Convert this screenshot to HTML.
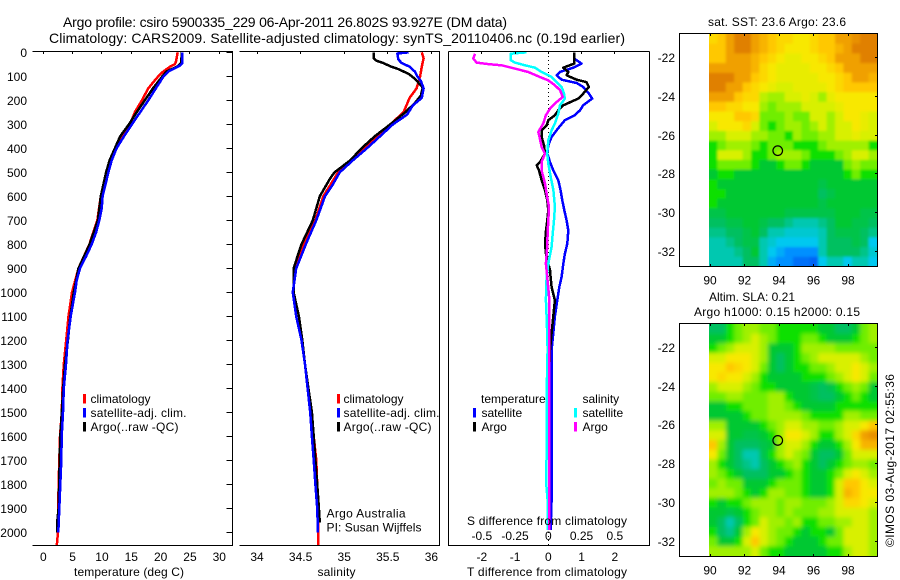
<!DOCTYPE html>
<html lang="en">
<head>
<meta charset="utf-8">
<title>Argo profile chart</title>
<style>
html,body{margin:0;padding:0;background:#fff;width:900px;height:580px;overflow:hidden}
svg{display:block}
text{font-family:"Liberation Sans",Arial,sans-serif;font-size:12px;fill:#000}
.t14{font-size:14px}
.mark{fill:none;stroke-width:2.5;stroke-linejoin:round;shape-rendering:crispEdges}
.ax{stroke:#000;stroke-width:1;shape-rendering:crispEdges;fill:none}
</style>
</head>
<body>
<svg id="chart" width="900" height="580" viewBox="0 0 900 580" xmlns="http://www.w3.org/2000/svg">
<defs>
<clipPath id="sstClip"><rect x="709" y="34" width="168" height="232.5"/></clipPath>
<clipPath id="slaClip"><rect x="709" y="324" width="168" height="232"/></clipPath>
<filter id="soft" x="-5%" y="-5%" width="110%" height="110%"><feGaussianBlur stdDeviation="1.2"/></filter>
<filter id="softer" x="-5%" y="-5%" width="110%" height="110%"><feGaussianBlur stdDeviation="2"/></filter>
</defs>

<text class="t14" x="63" y="27" textLength="444">Argo profile: csiro 5900335_229 06-Apr-2011 26.802S 93.927E (DM data)</text>
<text class="t14" x="49" y="43" textLength="576">Climatology: CARS2009. Satellite-adjusted climatology: synTS_20110406.nc (0.19d earlier)</text>

<!-- temperature panel -->
<g>
<polyline id="tempRed" class="mark" stroke="#ff0000"/>
<polyline id="tempBlack" class="mark" stroke="#000000"/>
<polyline id="tempBlue" class="mark" stroke="#0000ff"/>
<path class="ax" d="M32.5 51.5H232.5V545.5H32.5"/>
<g id="tempTicks"></g>
<text x="74" y="576" textLength="110">temperature (deg C)</text>
<rect x="83" y="394" width="3" height="9.5" fill="#ff0000"/>
<text x="90.5" y="403">climatology</text>
<rect x="83" y="408" width="3" height="9.5" fill="#0000ff"/>
<text x="90.5" y="417" textLength="96">satellite-adj. clim.</text>
<rect x="83" y="422" width="3" height="9.5" fill="#000"/>
<text x="90.5" y="431" textLength="88">Argo(..raw -QC)</text>
</g>

<!-- salinity panel -->
<g>
<polyline id="salRed" class="mark" stroke="#ff0000"/>
<polyline id="salBlack" class="mark" stroke="#000000"/>
<polyline id="salBlue" class="mark" stroke="#0000ff"/>
<path class="ax" d="M239.5 51.5H439.5V545.5H239.5"/>
<g id="salTicks"></g>
<text x="317.5" y="576" textLength="38">salinity</text>
<rect x="337" y="394" width="3" height="9.5" fill="#ff0000"/>
<text x="343.5" y="403">climatology</text>
<rect x="337" y="408" width="3" height="9.5" fill="#0000ff"/>
<text x="343.5" y="417" textLength="96">satellite-adj. clim.</text>
<rect x="337" y="422" width="3" height="9.5" fill="#000"/>
<text x="343.5" y="431" textLength="88">Argo(..raw -QC)</text>
<text x="326.5" y="517.5" textLength="79">Argo Australia</text>
<text x="326.5" y="531.5" textLength="95">PI: Susan Wijffels</text>
</g>

<!-- difference panel -->
<g>
<line x1="548.5" y1="52" x2="548.5" y2="545" stroke="#000" stroke-width="1" stroke-dasharray="1 3" shape-rendering="crispEdges"/>
<polyline id="diffTBlue" class="mark" stroke="#0000ff"/>
<polyline id="diffTBlack" class="mark" stroke="#000000"/>
<polyline id="diffSCyan" class="mark" stroke="#00ffff"/>
<polyline id="diffSMagenta" class="mark" stroke="#ff00ff"/>
<path class="ax" d="M448.5 51.5H649.5M448.5 51.5V545.5H649.5V51.5"/>
<g id="diffTicks"></g>
<text x="481" y="403">temperature</text>
<rect x="473" y="408" width="3" height="9.5" fill="#0000ff"/>
<text x="481.5" y="417">satellite</text>
<rect x="473" y="422" width="3" height="9.5" fill="#000"/>
<text x="481.5" y="431">Argo</text>
<text x="582.5" y="403">salinity</text>
<rect x="574" y="408" width="3" height="9.5" fill="#00ffff"/>
<text x="582.5" y="417">satellite</text>
<rect x="574" y="422" width="3" height="9.5" fill="#ff00ff"/>
<text x="582.5" y="431">Argo</text>
<text x="467" y="525" textLength="160">S difference from climatology</text>
<text x="467" y="576" textLength="160">T difference from climatology</text>
</g>

<!-- SST map -->
<g>
<text x="708" y="26" textLength="138">sat. SST: 23.6 Argo: 23.6</text>
<g clip-path="url(#sstClip)"><g id="sstCells" filter="url(#soft)"></g></g>
<path class="ax" d="M679.5 33.5H877.5V266.5H679.5Z"/>
<circle id="sstMarker" fill="none" stroke="#000" stroke-width="1.2" r="4.8"/>
<g id="sstTicks"></g>
</g>

<!-- SLA map -->
<g>
<text x="709" y="301" textLength="86">Altim. SLA: 0.21</text>
<text x="694" y="316" textLength="166">Argo h1000: 0.15 h2000: 0.15</text>
<g clip-path="url(#slaClip)"><g id="slaCells" filter="url(#softer)"></g></g>
<path class="ax" d="M679.5 323.5H877.5V556.5H679.5Z"/>
<circle id="slaMarker" fill="none" stroke="#000" stroke-width="1.2" r="4.8"/>
<g id="slaTicks"></g>
</g>

<text transform="translate(894 547) rotate(-90)" textLength="173">©IMOS 03-Aug-2017 02:55:36</text>
</svg>

<script>
var depthTempRed=[0,40,50,60,80,100,120,150,200,250,300,350,400,450,500,600,700,800,900,1000,1100,1200,1300,1400,1500,1600,1800,2000,2055];
var tempRed=[22.9,22.6,22.4,21.6,20.45,19.6,18.9,17.9,16.8,15.6,14.8,13.6,12.5,11.5,10.9,9.8,9.2,7.85,6,4.9,4.3,3.9,3.5,3.25,3.15,2.85,2.6,2.5,2.3];
var depthTempBlack=[0,45,60,80,100,150,200,250,300,350,400,450,500,600,700,800,900,1000,1100,1200,1300,1400,1500,1600,1700,1800,1900,1950,2000];
var tempBlack=[23.6,23.5,22.8,21,20.3,18.7,17.3,15.9,14.6,13.1,12.2,11.3,10.7,9.8,9.3,7.9,6,5.2,4.6,4.2,3.7,3.4,3.15,2.9,2.8,2.7,2.6,2.4,2.4];
var depthTempBlue=[0,45,55,80,100,150,200,250,300,350,400,450,500,550,600,650,700,750,800,850,900,950,1000,1100,1200,1300,1400,1500,1600,1700,1800,1900,2000];
var tempBlue=[23.7,23.7,23.3,21.3,20.5,19.2,17.9,16.5,15.1,13.75,12.5,11.65,11.1,10.6,10.1,9.95,9.55,9,8.25,7.3,6.25,5.7,5.4,4.67,4.15,3.87,3.5,3.35,3.13,3.07,2.9,2.73,2.55];

var depthSalRed=[0,25,60,100,150,190,250,300,350,400,450,500,600,700,800,900,1000,1100,1200,1300,1400,1500,1600,1700,1800,1900,2000,2055];
var salRed=[35.89,35.91,35.89,35.87,35.83,35.75,35.68,35.53,35.37,35.24,35.08,34.93,34.76,34.67,34.54,34.45,34.41,34.45,34.51,34.55,34.58,34.61,34.65,34.68,34.69,34.7,34.7,34.7];
var depthSalBlack=[0,25,35,45,60,70,90,110,130,147,180,212,250,300,350,400,450,500,525,600,700,800,900,1000,1100,1200,1300,1400,1500,1600,1700,1800,1900,1960];
var salBlack=[35.34,35.34,35.37,35.45,35.54,35.62,35.74,35.81,35.86,35.9,35.88,35.81,35.7,35.53,35.35,35.2,35.07,34.89,34.84,34.72,34.64,34.51,34.42,34.42,34.48,34.52,34.55,34.59,34.63,34.65,34.67,34.69,34.71,34.72];
var depthSalBlue=[0,5,30,45,60,80,100,120,150,190,220,260,300,350,400,450,500,550,600,700,800,900,1000,1100,1200,1300,1400,1500,1600,1700,1800,1900,2000];
var salBlue=[35.74,35.61,35.62,35.66,35.75,35.81,35.84,35.88,35.91,35.89,35.79,35.72,35.56,35.41,35.26,35.1,34.95,34.87,34.78,34.68,34.56,34.45,34.41,34.45,34.51,34.55,34.58,34.61,34.63,34.65,34.67,34.69,34.7];

var depthDiffTBlue=[0,26,47,64,82,96,114,128,144,172,193,221,242,262,283,304,325,353,387,422,457,492,533,575,617,658,700,742,797,839,881,936,978,1033,1100,1170,1240,1310,1449,1546,1657,1865,1990];
var diffTBlue=[0.78,0.78,1,0.75,0.35,0.25,0.4,0.85,1.05,1.22,1.32,1.05,0.95,0.8,0.5,0.37,0.25,0.1,0,-0.03,0.05,0.15,0.3,0.37,0.42,0.48,0.55,0.6,0.57,0.5,0.45,0.4,0.33,0.27,0.2,0.15,0.1,0.1,0.1,0.1,0.1,0.1,0.07];
var depthDiffTBlack=[0,47,64,82,96,114,124,144,172,193,221,242,262,283,304,325,353,387,422,457,471,492,533,575,617,658,700,742,797,839,881,908,936,978,1033,1100,1170,1240,1310,1449,1546,1657,1865,1990];
var diffTBlack=[0.78,0.78,0.45,0.6,0.55,0.85,1.15,1.22,1.05,0.9,0.45,0.3,0.2,0,-0.05,-0.2,-0.2,-0.13,-0.1,-0.25,-0.35,-0.28,-0.2,-0.1,-0.03,0,-0.03,-0.07,-0.1,-0.07,0,0.05,0.07,0.1,0.2,0.15,0.1,0.05,0.03,0.03,0.03,0.03,0.03,0.03];
var depthDiffSCyan=[0,6,33,43,54,64,82,103,124,144,172,193,221,256,297,325,367,422,464,519,575,644,700,756,811,881,936,1033,1100,1170,1240,1310,1449,1546,1657,1800,1865,1990];
var diffSCyan=[-0.163,-0.283,-0.283,-0.25,-0.175,-0.1,-0.05,0.025,0.063,0.1,0.118,0.125,0.088,0.075,0.05,0.025,0,-0.008,0,0.018,0.038,0.05,0.043,0.033,0.025,0,-0.013,-0.018,-0.013,-0.008,-0.005,-0.008,-0.013,-0.013,-0.013,-0.015,-0.005,-0.005];
var depthDiffSMagenta=[6,26,43,50,54,68,82,103,117,137,158,186,207,235,262,297,332,360,394,422,457,492,547,589,644,700,756,811,881,908,1033,1170,1449,1657,1990];
var diffSMagenta=[-0.551,-0.564,-0.539,-0.439,-0.351,-0.251,-0.15,-0.063,0,0.05,0.088,0.108,0.063,0.013,-0.018,-0.038,-0.075,-0.063,-0.05,-0.025,-0.05,-0.05,-0.025,-0.013,0.005,0,-0.005,-0.008,-0.018,-0.013,0.008,0.008,0.008,0.008,0.008];

var depthTickLabels=[0,100,200,300,400,500,600,700,800,900,1000,1100,1200,1300,1400,1500,1600,1700,1800,1900,2000];
var tempTickLabels=[0,5,10,15,20,25,30];
var salTickLabels=[34,34.5,35,35.5,36];
var diffTTickLabels=[-2,-1,0,1,2];
var diffSTickLabels=[-0.5,-0.25,0,0.25,0.5];
var lonTickLabels=[90,92,94,96,98];
var sstLatTickLabels=[-22,-24,-26,-28,-30,-32];
var slaLatTickLabels=[-22,-24,-26,-28,-30,-32];
var profileLon=93.927;
var profileLat=-26.802;

var colourScale=[[0,80,240],[0,144,255],[0,200,240],[0,200,176],[0,192,96],[0,200,48],[16,224,0],[112,238,0],[160,240,0],[216,240,0],[248,232,0],[255,200,0],[240,160,0],[224,128,0]];

var sstGrid=[
[10.5,11,12,13,13,12,11.5,11,10.5,10.5,10,10,10.5,11,11,12,12,12.5,13,13],
[11,11,12,13,13,12,11.5,11,10.5,10,10,10,10.5,11,11,11.5,12,13,13,13],
[11,11,12,12,12,11.5,11,10.5,10,9.5,9.5,10,10,10.5,11,12,12,12,13,13],
[12,12,12,12,12,11.5,10.5,10,9.5,9.5,9.5,9.5,10,10,10.5,11,12,12,12,12],
[13,13,13,12,12,11,10.5,10,9.5,9.5,9.5,9.5,9.5,10,10,10.5,11,12,12,11.5],
[13,13,12,12,11,10.5,10,9.5,9,9,9.5,9.5,9.5,9.5,10,10.5,11,11,11,11],
[12,12,12,11,10.5,10.5,8.5,8,8,9,9,9.5,9,8,9.5,10,10,10,10,10],
[11,11,10.5,10.5,10,10,8,7,8,8,8,9,9,9,9,9.5,10,10,10,10],
[10,10,10,11,11,10.5,7,7,7,8,7,7,9,9,8,9,10,10,9.5,9],
[9,10,10,10,10.5,9,7,6,7,8,8,7,8,9,8,9,9,10,9.5,9],
[8,8,9,9,9,8,8,7,7,6,8,7,7,8,8,9,9,9.5,9,9],
[6,7,8,8,8,7,6,7,7,7,6,6,6,7,8,8,8,8,8,6],
[6,9,9,9,8,6,6,7,8,8,8,7,6,6,6,7,8,9,9,8],
[6,7,7,7,7,6,5,5,6,7,7,6,5,5,5,5,7,8,7,7],
[5,6,6,5,5,5,5,5,5,5,5,5,5,5,5,5,6,7,6,6],
[6,5,5,5,5,5,5,5,5,5,5,5,5,4.5,5,5,5,5,5,5],
[6,6,5,5,5,5,5,5,5,5,5,5,5,4,4.5,5,5,5,5,5],
[6,5,5,5,5,5,5,5,5,5,5,5,5,4.5,5,5,5,5,5,5],
[4.5,4.5,5,5,5,5,5,5,5,4.5,4.5,4.5,4.5,4.5,4.5,5,5,5,4.5,4.5],
[4,4,4.5,4.5,5,5,4.5,4,4,3.5,3,3,3,3.5,4,5,5,4.5,4.5,4],
[3.5,3.5,4,4,4.5,5,4,3,3,2.5,2.5,2.5,2.5,3,4,4.5,4.5,4.5,4,3.5],
[3,3,3.5,4,4.5,4.5,3,2.5,2,2,2,2,2,3,4,4,4,4.5,4,2],
[3,3,3,3.5,4,5,3,2,1.5,1,1,1,1,3,4,4,4,4,3.5,2.5],
[3,3,3,3,4,4,3,1.5,1,1,0.5,0.5,0.3,2,3,3,2,3,3,2]
];

var slaGrid=[
[4,4,6,7,8,8,7,7,6,6,6,6,6,5,5,4,4,5,7,8],
[5,5,6,7,8,9,8,7,6,6,6,7,7,6,5,5,5,6,7,8],
[6,7,8,9,9,9,8,5,5,5,6,8,8,8,8,7,7,7,7,7],
[9,9,10,10,10,9,8,5,4,5,6,7,8,9,9,9,9,9,8,7],
[10,10,11,10.5,10,9,7,5,4,5,6,6,7,7,8,9,9,10,9,8],
[10,10.5,10,10,9,8,6,5,5,5,5,6,6,6,7,8,9,10,9,7],
[8,9,9,9,8,7,6,6,5,5,5,5,4.5,4,4.5,6,7,8,7,5],
[7,7,8,8,7,7,7,8,8,6,5,5,4.5,4,4,5,6,7,6,5],
[5,5,6,6,7,7,7,8,8,7,6,5,5,5,5,6,6,6,6,6],
[5,5,5,5,6,7,7,8,8,8,8,7,6,6,6,6,8,8,7,7],
[8,8,5,5,5,5,6,7,8,9,9,8,8,7,7,8,9,9,10,11],
[9,9,5,5,4.5,4.5,5,6,8,10,10,9,8,6,6,8,9,10.5,12,12.5],
[11,8,5,4,4,4,4.5,5,8,9,9,8,6,5,5,6,8,10,11.5,11.5],
[10,7,5,4,3,3,4.5,6,8,9,8,7,5,4,4,5,7,9,9,9],
[8,6,5,4,3.5,3,4,5,6,7,8,6,5,4,5,6,7,8,8,7],
[8,7,6,5,4,4,4,5,5,6,7,6,5,5,6,7,9,10,9,8],
[7,8,7,7,5,5,5,6,7,7,7,6,5,5,6,9,11,11,10,9],
[8,8,8,7,6,5,6,8,8,7,7,6,5,5,6,9,11.5,11,10,10],
[6,5,6,6,7,8,8,8,7,8,8,7,7,7,8,9,10.5,10.5,10,9],
[5,5,4.5,5,6,7,8,8,7,8,7,7,7,8,8,9,9,9,9,8],
[5,4,3,4,6,7,9,8,8,7,8,6,6,7,7,8,8,9,9,8],
[6,4,3.5,5,8,10,9,8,7,7,6,5,6,6,5,7,9,9,9,8],
[7,5,5,6,9,11,9,8,7,6,5,5,5,6,7,7,9,9,9,8],
[8,8,8,8,8,9,7,6,6,5,5,5,5,5,6,6,8,9,9,8]
];

var SVGNS='http://www.w3.org/2000/svg';
function yDepth(d){return 52.3+0.24*d;}
function xTemp(t){return 43.3+5.867*t;}
function xSal(s){return 257+87.2*(s-34);}
function xDiffT(t){return 548.3+33.25*t;}
function xDiffS(s){return 548.3+133*s;}
function xLon(l){return 710+17.25*(l-90);}
function ySstLat(l){return 57.7+19.36*(-22-l);}
function ySlaLat(l){return 347.3+19.4*(-22-l);}

function plot(id,xs,depths,xFn){
  var pts=[];
  for(var i=0;i<xs.length;i++){pts.push(xFn(xs[i]).toFixed(1)+','+yDepth(depths[i]).toFixed(1));}
  document.getElementById(id).setAttribute('points',pts.join(' '));
}
plot('tempRed',tempRed,depthTempRed,xTemp);
plot('tempBlack',tempBlack,depthTempBlack,xTemp);
plot('tempBlue',tempBlue,depthTempBlue,xTemp);
plot('salRed',salRed,depthSalRed,xSal);
plot('salBlack',salBlack,depthSalBlack,xSal);
plot('salBlue',salBlue,depthSalBlue,xSal);
plot('diffTBlue',diffTBlue,depthDiffTBlue,xDiffT);
plot('diffTBlack',diffTBlack,depthDiffTBlack,xDiffT);
plot('diffSCyan',diffSCyan,depthDiffSCyan,xDiffS);
plot('diffSMagenta',diffSMagenta,depthDiffSMagenta,xDiffS);

function tick(parent,x1,y1,x2,y2){
  var l=document.createElementNS(SVGNS,'line');
  l.setAttribute('x1',x1);l.setAttribute('y1',y1);l.setAttribute('x2',x2);l.setAttribute('y2',y2);
  l.setAttribute('class','ax');
  
  
  parent.appendChild(l);
}
function label(parent,str,x,y,anchor){
  var t=document.createElementNS(SVGNS,'text');
  t.setAttribute('x',x);t.setAttribute('y',y);t.setAttribute('text-anchor',anchor);
  t.textContent=str;
  
  
  parent.appendChild(t);
}
function snap(v){return Math.round(v-0.5)+0.5;}

var g=document.getElementById('tempTicks');
depthTickLabels.forEach(function(d){
  var y=snap(yDepth(d));
  tick(g,226.5,y,232,y);
  label(g,String(d),27,y+4.5,'end');
});
tempTickLabels.forEach(function(t){
  var x=snap(xTemp(t));
  tick(g,x,52,x,54);
  label(g,String(t),xTemp(t),561,'middle');
});
g=document.getElementById('salTicks');
salTickLabels.forEach(function(s){
  var x=snap(xSal(s));
  tick(g,x,52,x,54);
  label(g,String(s),xSal(s),561,'middle');
});
g=document.getElementById('diffTicks');
diffTTickLabels.forEach(function(t){
  var x=snap(xDiffT(t));
  tick(g,x,52,x,54);
  label(g,String(t),xDiffT(t),561,'middle');
});
diffSTickLabels.forEach(function(s){
  label(g,String(s),xDiffS(s),540,'middle');
});

function levelColour(v){
  var m=Math.max(0,Math.min(colourScale.length-1,v));
  var lo=Math.floor(m),hi=Math.min(colourScale.length-1,lo+1),f=m-lo;
  var a=colourScale[lo],b=colourScale[hi];
  return 'rgb('+Math.round(a[0]+(b[0]-a[0])*f)+','+Math.round(a[1]+(b[1]-a[1])*f)+','+Math.round(a[2]+(b[2]-a[2])*f)+')';
}
function heat(id,grid,x0,y0,w,h){
  var host=document.getElementById(id);
  var rows=grid.length,cols=grid[0].length,cw=w/cols,ch=h/rows;
  for(var r=0;r<rows;r++){
    for(var c=0;c<cols;c++){
      var v=grid[r][c];
      var rect=document.createElementNS(SVGNS,'rect');
      var left=x0+c*cw,top=y0+r*ch,rw=cw+0.5,rh=ch+0.5;
      if(c===0){left-=10;rw+=10;}
      if(c===cols-1){rw+=10;}
      if(r===0){top-=10;rh+=10;}
      if(r===rows-1){rh+=10;}
      rect.setAttribute('x',left.toFixed(1));
      rect.setAttribute('y',top.toFixed(1));
      rect.setAttribute('width',rw.toFixed(1));
      rect.setAttribute('height',rh.toFixed(1));
      rect.setAttribute('fill',levelColour(v));
      
      
      host.appendChild(rect);
    }
  }
}
heat('sstCells',sstGrid,709,34,168,232.5);
heat('slaCells',slaGrid,709,324,168,232);

g=document.getElementById('sstTicks');
lonTickLabels.forEach(function(l){
  var x=snap(xLon(l));
  tick(g,x,34,x,36);
  tick(g,x,264,x,266);
  label(g,String(l),xLon(l),284.5,'middle');
});
sstLatTickLabels.forEach(function(l){
  var y=snap(ySstLat(l));
  tick(g,875,y,877,y);
  label(g,String(l),675,y+4.5,'end');
});
g=document.getElementById('slaTicks');
lonTickLabels.forEach(function(l){
  var x=snap(xLon(l));
  tick(g,x,324,x,326);
  tick(g,x,554,x,556);
  label(g,String(l),xLon(l),574.5,'middle');
});
slaLatTickLabels.forEach(function(l){
  var y=snap(ySlaLat(l));
  tick(g,875,y,877,y);
  label(g,String(l),675,y+4.5,'end');
});

var m1=document.getElementById('sstMarker');
m1.setAttribute('cx',xLon(profileLon));
m1.setAttribute('cy',ySstLat(profileLat));
var m2=document.getElementById('slaMarker');
m2.setAttribute('cx',xLon(profileLon));
m2.setAttribute('cy',ySlaLat(profileLat));
</script>
</body>
</html>
